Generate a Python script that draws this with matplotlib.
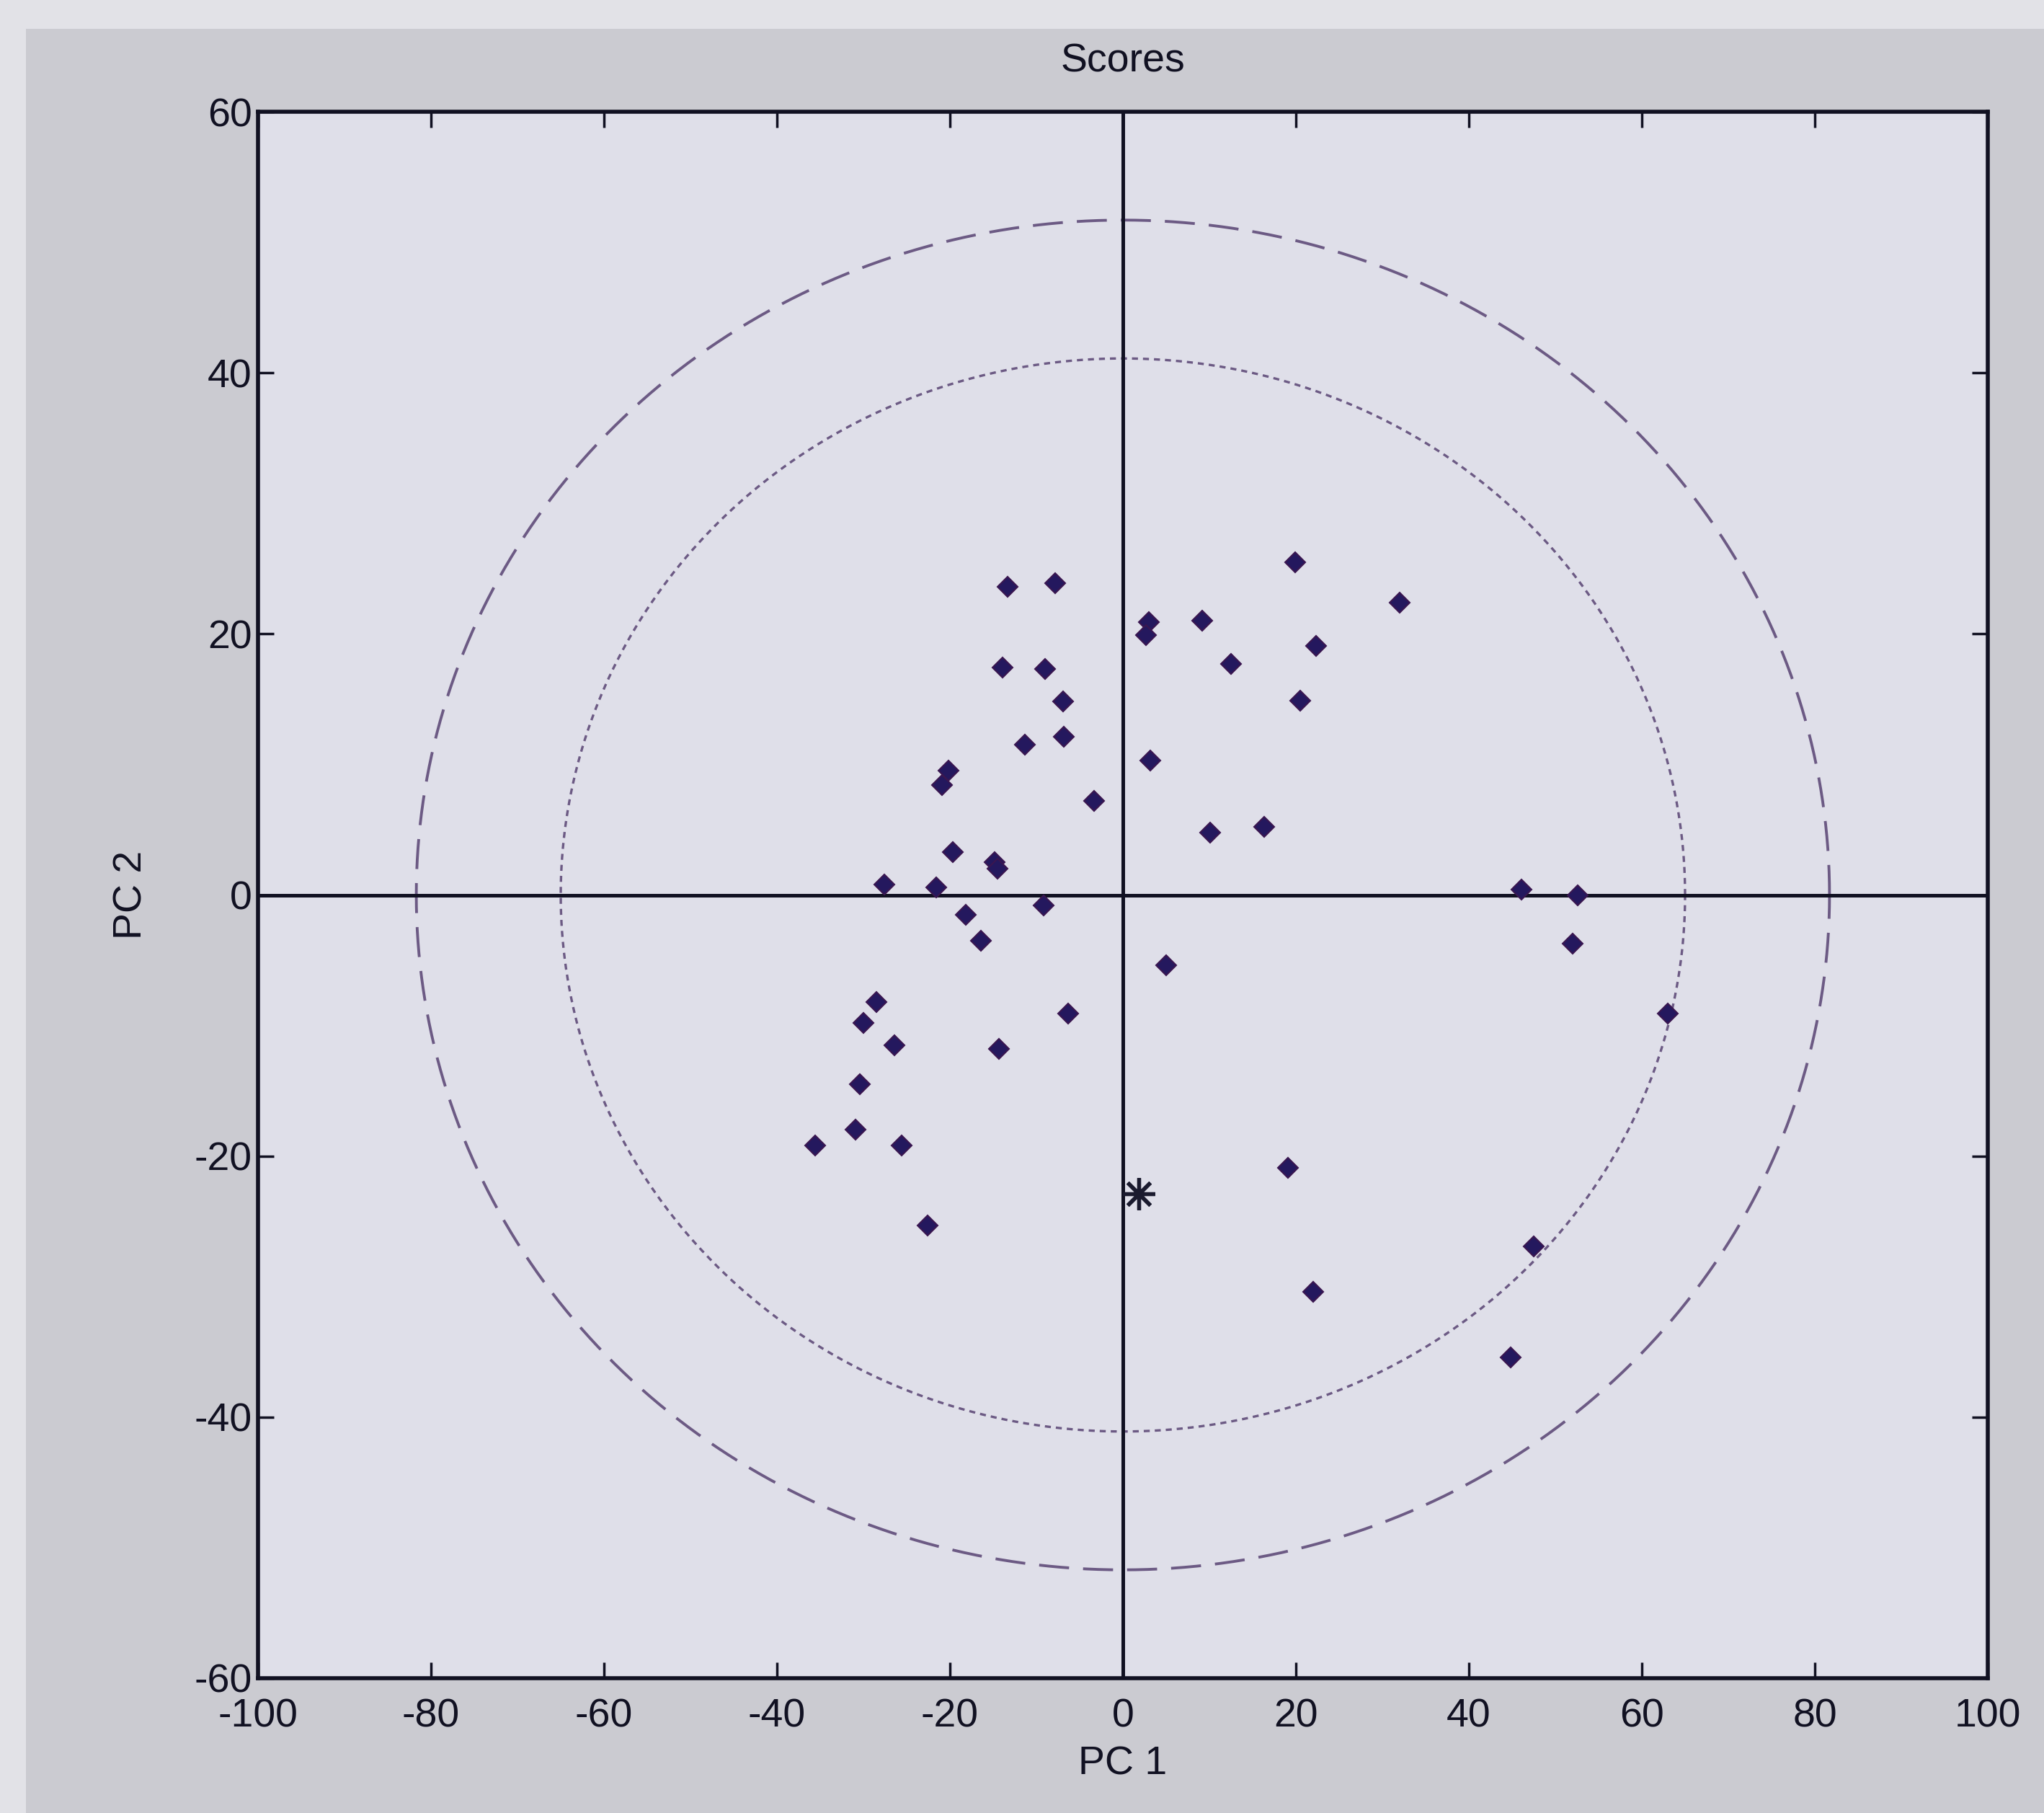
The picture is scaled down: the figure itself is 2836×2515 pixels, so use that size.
import numpy as np
import matplotlib
matplotlib.use("Agg")
import matplotlib.pyplot as plt
from matplotlib.patches import Rectangle

# ---- data ----
pc1 = [-13.3, -7.8, -13.9, -9.0, -6.9, -11.3, -6.8, -3.3, -20.2, -20.9,
       -19.7, -14.8, -14.5, -27.6, -21.6, -18.2, -16.4, -9.2, -28.5, -30.0,
       -26.4, -14.3, -6.3, -30.4, -30.9, -35.6, -25.6, -22.6,
       19.9, 32.0, 3.0, 2.7, 9.2, 12.5, 22.3, 20.5, 3.2, 10.1, 16.3, 5.0,
       46.1, 52.6, 52.0, 63.0, 19.1, 22.0, 47.5, 44.8]
pc2 = [23.6, 23.9, 17.4, 17.3, 14.8, 11.5, 12.1, 7.2, 9.5, 8.4,
       3.3, 2.5, 2.0, 0.8, 0.6, -1.5, -3.5, -0.8, -8.2, -9.8,
       -11.5, -11.8, -9.1, -14.5, -18.0, -19.2, -19.2, -25.3,
       25.5, 22.4, 20.9, 19.9, 21.0, 17.7, 19.1, 14.9, 10.3, 4.8, 5.2, -5.4,
       0.4, 0.0, -3.7, -9.1, -20.9, -30.4, -26.9, -35.4]
star_pc1 = [1.8]
star_pc2 = [-22.9]
outer_limit = (81.7, 51.7)   # semi-axes of the dashed ellipse
inner_limit = (65.0, 41.1)   # semi-axes of the dotted ellipse
xticks = [-100, -80, -60, -40, -20, 0, 20, 40, 60, 80, 100]
yticks = [-60, -40, -20, 0, 20, 40, 60]

plt.rcParams['font.family'] = ['Liberation Sans', 'DejaVu Sans']
plt.rcParams['lines.scale_dashes'] = False
plt.rcParams['axes.unicode_minus'] = False

W, H = 2836, 2515
fig = plt.figure(figsize=(W / 100, H / 100), dpi=100)
fig.patch.set_facecolor('#e2e2e7')
fig.patches.append(Rectangle((36 / W, 0), 1, 1 - 40 / H, transform=fig.transFigure,
                             facecolor='#cbcbd1', edgecolor='none', zorder=-10))

ax = fig.add_axes([358 / W, 1 - 2328 / H, (2758 - 358) / W, (2328 - 155) / H])
ax.set_facecolor('#dfdfe9')
ax.set_xlim(-100, 100)
ax.set_ylim(-60, 60)

t = np.linspace(0, 2 * np.pi, 721)
ax.plot(outer_limit[0] * np.cos(t), outer_limit[1] * np.sin(t), color='#6c5a84',
        lw=2.8, dashes=(30, 14))
ax.plot(inner_limit[0] * np.cos(t), inner_limit[1] * np.sin(t), color='#6c5a84',
        lw=2.4, dashes=(6, 5))

ax.axhline(0, color='#111122', lw=3.6, zorder=2)
ax.axvline(0, color='#111122', lw=3.6, zorder=2)

ax.plot(pc1, pc2, linestyle='none', marker='D', markersize=14,
        markerfacecolor='#24185e', markeredgecolor='#3a1650', markeredgewidth=1.5, zorder=3)
# asterisk marker
ax.plot(star_pc1, star_pc2, linestyle='none', marker=(8, 2, 0), markersize=32,
        markeredgecolor='#1a1a2e', markeredgewidth=3.8, zorder=4)

ax.set_xticks(xticks)
ax.set_yticks(yticks)
ax.tick_params(direction='in', length=16, width=2.5, top=True, right=True,
               labelsize=40, colors='#111122')
ax.tick_params(axis='x', pad=20)
ax.tick_params(axis='y', pad=6)
for s in ax.spines.values():
    s.set_linewidth(4)
    s.set_color('#111122')

ax.set_title('Scores', fontsize=40, pad=40, color='#111122')
ax.set_xlabel('PC 1', fontsize=40, labelpad=10, color='#111122')
ax.set_ylabel('PC 2', fontsize=40, labelpad=44, color='#111122')

fig.savefig('out.png', dpi=100, facecolor=fig.get_facecolor())
